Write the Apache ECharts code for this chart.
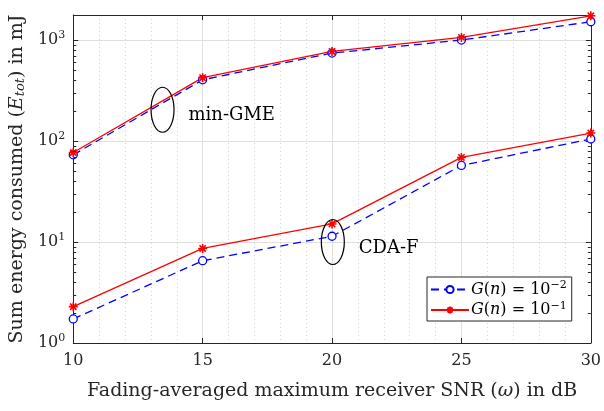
<!DOCTYPE html>
<html>
<head>
<meta charset="utf-8">
<script src="https://cdn.jsdelivr.net/npm/echarts@6/dist/echarts.min.js"></script>
<style>
  html, body { margin: 0; padding: 0; background: #fff; }
  #chart { width: 604px; height: 411px; }
</style>
</head>
<body>
<div id="chart"></div>
<script>
// Données
const snr = [10, 15, 20, 25, 30];
const gmeG2 = [73, 404, 743, 1000, 1518];   // min-GME, G(n) = 10^-2
const gmeG1 = [77, 424, 771, 1062, 1738];   // min-GME, G(n) = 10^-1
const cdaG2 = [1.73, 6.53, 11.4, 57.3, 104.7]; // CDA-F, G(n) = 10^-2
const cdaG1 = [2.29, 8.64, 15.1, 68.8, 120];   // CDA-F, G(n) = 10^-1
const legendNames = ['G2', 'G1'];
const yMax = 1770;

const FONT = 'DejaVu Serif';
const AXIS = '#262626';

const asterisk = 'path://M0,-1L0,1M-1,0L1,0M-0.7,-0.7L0.7,0.7M-0.7,0.7L0.7,-0.7';

function pairs(xs, ys) {
    return xs.map((x, i) => [x, ys[i]]);
}

const chart = echarts.init(document.getElementById('chart'));

const blueStyle = {
    type: 'line',
    name: 'G2',
    symbol: 'circle',
    symbolSize: 8,
    itemStyle: { color: '#fff', borderColor: '#0000ff', borderWidth: 1.3 },
    lineStyle: { color: '#0000ff', width: 1.3, type: [8, 5] },
    emphasis: { disabled: true },
    animation: false
};
const redStyle = {
    type: 'line',
    name: 'G1',
    symbol: asterisk,
    symbolSize: 9,
    itemStyle: { color: '#ff0000', borderColor: '#ff0000', borderWidth: 1.6 },
    lineStyle: { color: '#ff0000', width: 1.3 },
    emphasis: { disabled: true },
    animation: false
};

const option = {
    backgroundColor: '#fff',
    textStyle: { fontFamily: FONT },
    grid: { left: 72, right: 12, top: 15, bottom: 68, containLabel: false },
    legend: {
        data: legendNames,
        orient: 'vertical',
        left: 427,
        top: 277,
        backgroundColor: '#fff',
        borderColor: AXIS,
        borderWidth: 1,
        borderRadius: 0,
        padding: [3, 5, 3, 3],
        itemGap: 3,
        itemWidth: 38,
        itemHeight: 9,
        selectedMode: false,
        formatter: name => name === 'G2'
            ? '{i|G}({i|n}) = 10{sup|−2}'
            : '{i|G}({i|n}) = 10{sup|−1}',
        textStyle: {
            fontFamily: FONT, fontSize: 16, color: '#000', padding: [0, 0, 0, -3],
            rich: {
                i: { fontFamily: FONT, fontStyle: 'italic', fontSize: 16 },
                sup: { fontFamily: FONT, fontSize: 11, verticalAlign: 'top', padding: [0, 0, 8, 0] }
            }
        }
    },
    xAxis: [{
        type: 'value',
        min: 10, max: 30, interval: 5,
        name: 'Fading-averaged maximum receiver SNR ({i|ω}) in dB',
        nameLocation: 'middle',
        nameGap: 39,
        nameTextStyle: {
            fontFamily: FONT, fontSize: 19, color: '#262626',
            rich: { i: { fontFamily: FONT, fontStyle: 'italic', fontSize: 19, color: '#262626' } }
        },
        axisLine: { show: true, onZero: false, lineStyle: { color: AXIS, width: 1 } },
        axisTick: { inside: true, length: 5, lineStyle: { color: AXIS } },
        axisLabel: { color: '#262626', fontSize: 16, margin: 10 },
        splitLine: { show: true, lineStyle: { color: '#dfdfdf', width: 1 } },
        minorTick: { show: true, splitNumber: 5, length: 0 },
        minorSplitLine: { show: true, lineStyle: { color: '#d4d4d4', width: 1, type: [1, 3] } }
    }, {
        type: 'value',
        position: 'top',
        min: 10, max: 30, interval: 5,
        axisLine: { show: true, onZero: false, lineStyle: { color: AXIS, width: 1 } },
        axisTick: { inside: true, length: 5, lineStyle: { color: AXIS } },
        axisLabel: { show: false },
        splitLine: { show: false }
    }],
    yAxis: [{
        type: 'log',
        logBase: 10,
        min: 1, max: yMax,
        name: 'Sum energy consumed ({i|E}{sub|tot}) in mJ',
        nameLocation: 'middle',
        nameGap: 46,
        nameRotate: 90,
        nameTextStyle: {
            fontFamily: FONT, fontSize: 19, color: '#262626',
            rich: {
                i: { fontFamily: FONT, fontStyle: 'italic', fontSize: 19, color: '#262626' },
                sub: { fontFamily: FONT, fontStyle: 'italic', fontSize: 13, color: '#262626', verticalAlign: 'bottom', padding: [6, 0, 0, 0] }
            }
        },
        axisLine: { show: true, lineStyle: { color: AXIS, width: 1 } },
        axisTick: { inside: true, length: 5, lineStyle: { color: AXIS } },
        axisLabel: {
            color: '#262626', fontSize: 16, margin: 8, showMaxLabel: false,
            formatter: v => '10{sup|' + Math.round(Math.log10(v)) + '}',
            rich: { sup: { fontSize: 11, verticalAlign: 'top', padding: [0, 0, 9, 0], color: '#262626' } }
        },
        splitLine: { show: true, lineStyle: { color: '#dfdfdf', width: 1 } }
    }, {
        type: 'log',
        logBase: 10,
        position: 'right',
        min: 1, max: yMax,
        axisLine: { show: true, lineStyle: { color: AXIS, width: 1 } },
        axisTick: { inside: true, length: 5, lineStyle: { color: AXIS } },
        axisLabel: { show: false },
        splitLine: { show: false }
    }],
    series: [
        Object.assign({}, blueStyle, { data: pairs(snr, gmeG2) }),
        Object.assign({}, redStyle, { data: pairs(snr, gmeG1) }),
        Object.assign({}, blueStyle, { data: pairs(snr, cdaG2) }),
        Object.assign({}, redStyle, { data: pairs(snr, cdaG1) })
    ]
};

chart.setOption(option);

// Petites graduations log + annotations (ellipses)
function decorations() {
    const elements = [];
    const left = chart.convertToPixel({ xAxisIndex: 0 }, 10);
    const right = chart.convertToPixel({ xAxisIndex: 0 }, 30);
    for (let k = 0; k < 4; k++) {
        for (let m = 2; m <= 9; m++) {
            const v = m * Math.pow(10, k);
            if (v > yMax) continue;
            const y = Math.round(chart.convertToPixel({ yAxisIndex: 0 }, v)) + 0.5;
            elements.push({ type: 'line', shape: { x1: left, y1: y, x2: left + 3, y2: y }, style: { stroke: AXIS, lineWidth: 1 }, z: 10 });
            elements.push({ type: 'line', shape: { x1: right - 3, y1: y, x2: right, y2: y }, style: { stroke: AXIS, lineWidth: 1 }, z: 10 });
        }
    }
    const notes = [
        { x: 13.45, y: 204, text: 'min-GME' },
        { x: 20.03, y: 10, text: 'CDA-F' }
    ];
    notes.forEach(n => {
        const [cx, cy] = chart.convertToPixel({ xAxisIndex: 0, yAxisIndex: 0 }, [n.x, n.y]);
        elements.push({ type: 'ellipse', shape: { cx: cx, cy: cy, rx: 11.5, ry: 22.5 }, style: { fill: 'none', stroke: '#000', lineWidth: 1.2 }, z: 20 });
        elements.push({ type: 'text', x: cx + 26, y: cy + 6, style: { text: n.text, font: '18px "DejaVu Serif"', fill: '#000', verticalAlign: 'middle' }, z: 20 });
    });
    chart.setOption({ graphic: elements });
}
decorations();
</script>
</body>
</html>
